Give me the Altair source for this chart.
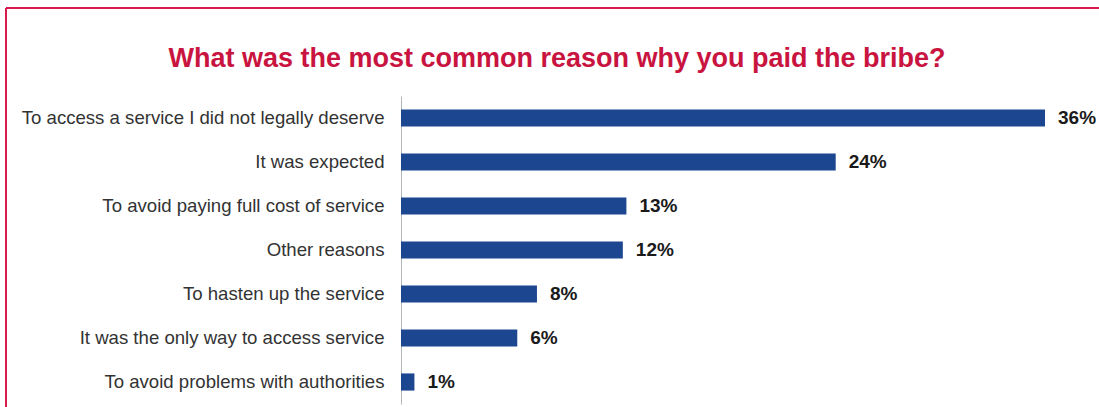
import altair as alt
import pandas as pd

reasons = [
    "To access a service I did not legally deserve",
    "It was expected",
    "To avoid paying full cost of service",
    "Other reasons",
    "To hasten up the service",
    "It was the only way to access service",
    "To avoid problems with authorities",
]
# bar lengths; printed labels are rounded
shares = [36, 24.3, 12.6, 12.4, 7.6, 6.5, 0.75]
labels = ["36%", "24%", "13%", "12%", "8%", "6%", "1%"]
title_text = ["What was the most common reason why you paid the bribe?"]

df = pd.DataFrame({"reason": reasons, "share": shares, "label": labels})
tdf = pd.DataFrame({"t": title_text})

FONT = "Liberation Sans"

y_enc = alt.Y(
    "reason:N",
    sort=reasons,
    scale=alt.Scale(paddingInner=0.61, paddingOuter=0.305),
    axis=alt.Axis(
        title=None,
        ticks=False,
        labelPadding=17,
        labelFontSize=18.6,
        labelFont=FONT,
        labelColor="#333333",
        domainColor="#b5b5b5",
        domainWidth=1,
        labelLimit=500,
    ),
)
x_enc = alt.X("share:Q", scale=alt.Scale(domain=[0, 36], nice=False), axis=None)

bars = alt.Chart(df).mark_bar(color="#1d4691").encode(x=x_enc, y=y_enc)

text = alt.Chart(df).mark_text(
    align="left", baseline="middle", dx=13, fontSize=19, fontWeight="bold",
    font=FONT, color="#1a1a1a"
).encode(x=x_enc, y=y_enc, text="label:N")

title = alt.Chart(tdf).mark_text(
    align="center", baseline="alphabetic", fontSize=27, fontWeight="bold",
    font=FONT, color="#c8143f"
).encode(x=alt.value(156), y=alt.value(-29), text="t:N")

border_top = alt.Chart(tdf).mark_rule(color="#d81b4c", strokeWidth=2).encode(
    x=alt.value(-395), x2=alt.value(700), y=alt.value(-88)
)
border_left = alt.Chart(tdf).mark_rule(color="#d81b4c", strokeWidth=2).encode(
    x=alt.value(-395), y=alt.value(-88), y2=alt.value(320)
)

chart = (
    alt.layer(bars, text, title, border_top, border_left)
    .properties(
        width=644,
        height=308,
        autosize=alt.AutoSizeParams(type="none"),
        padding={"left": 401, "top": 96, "right": 54, "bottom": 3},
    )
    .configure(background="white")
    .configure_view(strokeWidth=0, stroke="transparent")
)

chart.save("out.html", embed_options={"renderer": "svg", "actions": False})
